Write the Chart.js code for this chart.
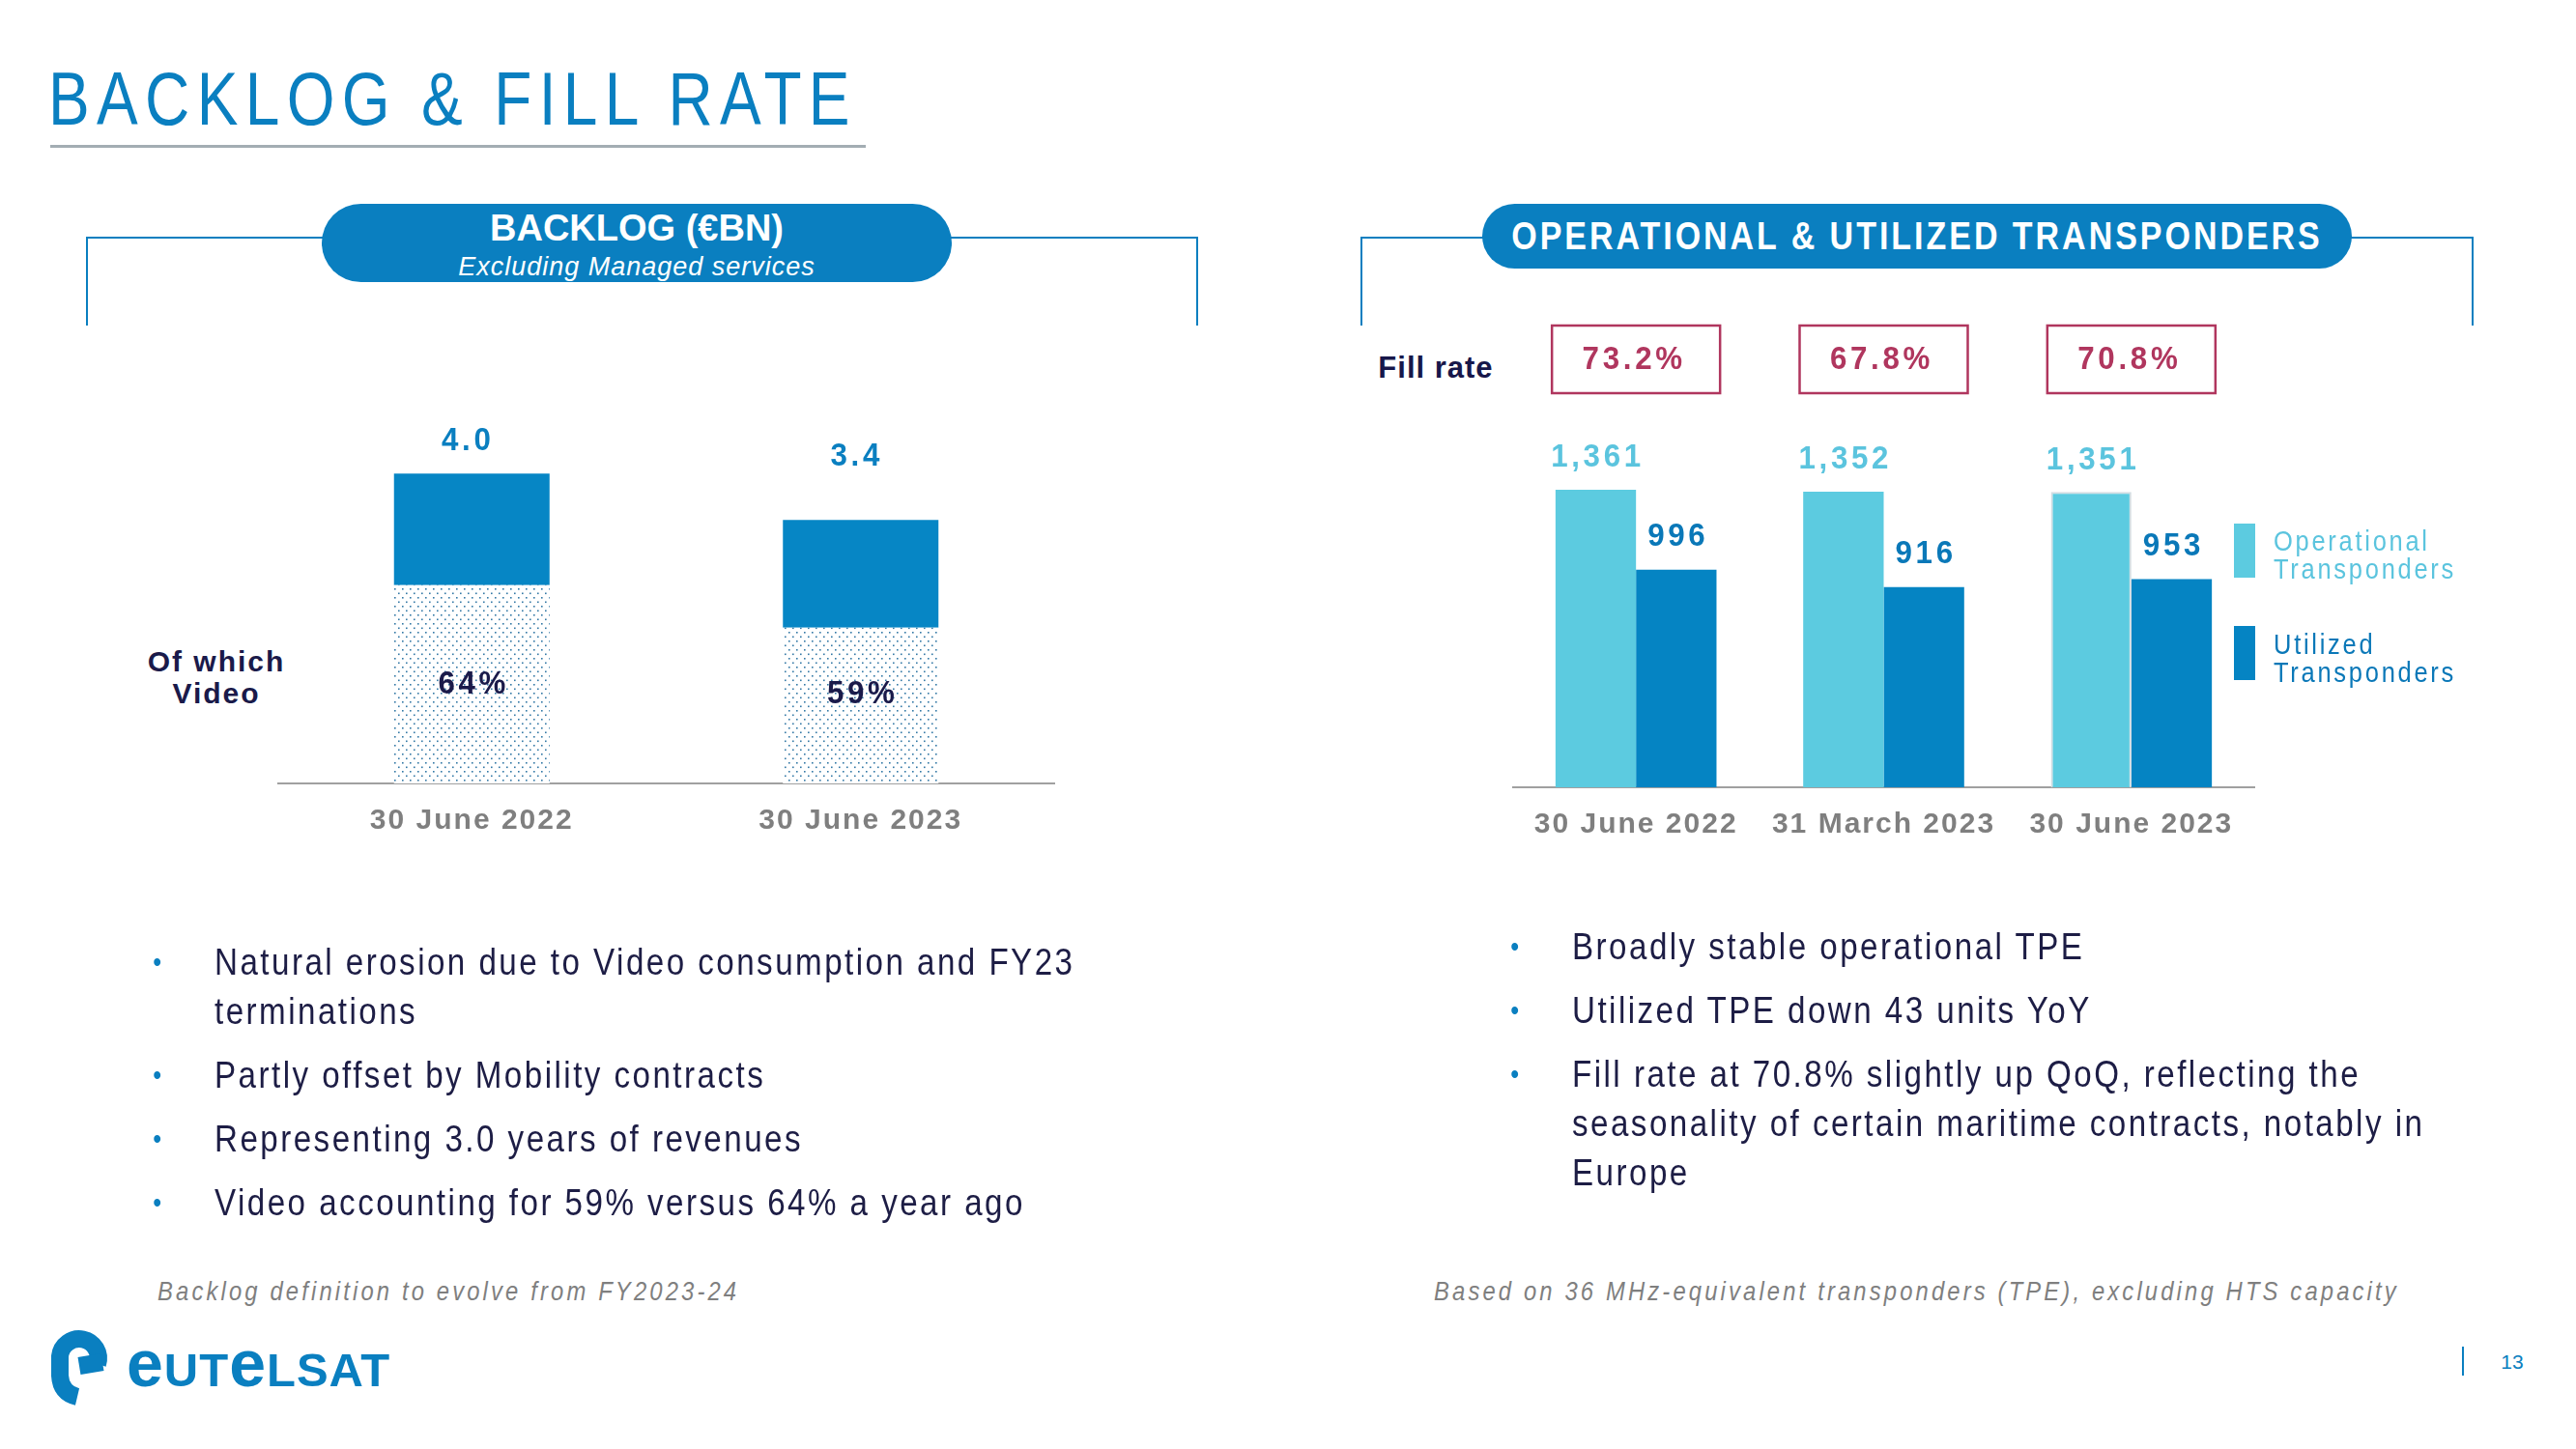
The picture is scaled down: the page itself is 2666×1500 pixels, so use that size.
<!DOCTYPE html>
<html>
<head>
<meta charset="utf-8">
<script src="https://cdn.jsdelivr.net/npm/chart.js@4.4.0/dist/chart.umd.min.js"></script>
<style>
    html, body { margin: 0; padding: 0; background: #fff; }
    body {
        width: 2666px; height: 1500px; position: relative; overflow: hidden;
        font-family: 'Liberation Sans', Arial, sans-serif;
    }
    .abs { position: absolute; white-space: nowrap; }

    #title {
        left: 50px; top: 63px;
        font-size: 78px; line-height: 78px; color: #0a7fc0; letter-spacing: 9px;
        transform: scaleX(0.82); transform-origin: 0 0;
    }
    #titleLine { left: 52px; top: 150px; width: 844px; height: 3px; background: #a3adb3; }

    .bracket { border: 2px solid #0a7fc0; border-bottom: none; height: 90px; }
    .pill { background: #0a7fc0; color: #fff; text-align: center; }

    /* no narrow face installed, so text blocks are squeezed horizontally */
    .bullets {
        font-size: 39px; line-height: 51px; color: #1d1d45; letter-spacing: 2.9px;
        transform: scaleX(0.85); transform-origin: 0 0;
    }
    .bullets p { margin: 0 0 15px 0; position: relative; }
    .bullets p::before {
        content: "\2022"; position: absolute; left: -75px; top: 0;
        color: #0a7fc0; font-size: 30px; letter-spacing: 0;
    }
    .foot {
        font-size: 28px; line-height: 34px; color: #7f7f7f; font-style: italic; letter-spacing: 3.7px;
        transform: scaleX(0.85); transform-origin: 0 0;
    }
    .legend-sw { width: 22px; height: 56px; }
    .legend-tx {
        font-size: 30px; line-height: 29px; letter-spacing: 3.2px;
        transform: scaleX(0.85); transform-origin: 0 0;
    }
</style>
</head>
<body>

<div id="title" class="abs">BACKLOG &amp; FILL RATE</div>
<div id="titleLine" class="abs"></div>

<!-- ============ section headers ============ -->
<div class="abs bracket" style="left:89px; top:245px; width:1147px;"></div>
<div class="abs pill" style="left:333px; top:211px; width:652px; height:81px; border-radius:41px;">
    <div style="position:absolute; left:0; right:0; top:5px; font-size:38px; line-height:40px; font-weight:bold;">BACKLOG (€BN)</div>
    <div style="position:absolute; left:0; right:0; top:50px; font-size:27px; line-height:30px; font-style:italic; letter-spacing:1px;">Excluding Managed services</div>
</div>

<div class="abs bracket" style="left:1408px; top:245px; width:1148px;"></div>
<div class="abs pill" style="left:1534px; top:211px; width:900px; height:67px; border-radius:34px;">
    <span style="position:absolute; left:50%; top:0; font-size:40px; line-height:67px; font-weight:bold;
          letter-spacing:3.5px; white-space:nowrap; transform-origin:0 0;
          transform:scaleX(0.85) translateX(-50%);">OPERATIONAL &amp; UTILIZED TRANSPONDERS</span>
</div>

<!-- ============ left chart ============ -->
<div class="abs" style="left:124px; top:668px; width:200px; text-align:center; font-size:30px; line-height:33px; font-weight:bold; color:#1a1a4a; letter-spacing:2px;">Of which<br>Video</div>
<canvas id="backlogChart" class="abs" width="805" height="479" style="left:287px; top:410px;"></canvas>

<!-- ============ right chart ============ -->
<div class="abs" style="left:1386px; top:363px; width:200px; text-align:center; font-size:31px; line-height:36px; font-weight:bold; color:#17174a; letter-spacing:1px;">Fill rate</div>
<canvas id="tpeChart" class="abs" width="769" height="573" style="left:1565px; top:320px;"></canvas>

<div class="abs legend-sw" style="left:2312px; top:542px; background:#5ccbe0;"></div>
<div class="abs legend-tx" style="left:2353px; top:545px; color:#5bc4de;">Operational<br>Transponders</div>
<div class="abs legend-sw" style="left:2312px; top:648px; background:#0584c3;"></div>
<div class="abs legend-tx" style="left:2353px; top:652px; color:#0a78b8;">Utilized<br>Transponders</div>

<!-- ============ bullets ============ -->
<div class="abs bullets" style="left:222px; top:970px;">
    <p>Natural erosion due to Video consumption and FY23<br>terminations</p>
    <p>Partly offset by Mobility contracts</p>
    <p>Representing 3.0 years of revenues</p>
    <p>Video accounting for 59% versus 64% a year ago</p>
</div>
<div class="abs bullets" style="left:1627px; top:954px;">
    <p>Broadly stable operational TPE</p>
    <p>Utilized TPE down 43 units YoY</p>
    <p>Fill rate at 70.8% slightly up QoQ, reflecting the<br>seasonality of certain maritime contracts, notably in<br>Europe</p>
</div>

<div class="abs foot" style="left:163px; top:1320px;">Backlog definition to evolve from FY2023-24</div>
<div class="abs foot" style="left:1484px; top:1320px;">Based on 36 MHz-equivalent transponders (TPE), excluding HTS capacity</div>

<!-- ============ logo + page ============ -->
<svg class="abs" style="left:0; top:0;" width="130" height="1500">
    <g fill="none" stroke="#0a7fc0" stroke-width="18">
        <path d="M 101 1412 A 20 20 0 1 0 62 1404 L 62 1424 Q 63 1442 80 1446"/>
        <path d="M 82 1414 L 106 1410"/>
    </g>
</svg>
<div class="abs" style="left:131px; top:1387px; font-weight:bold; font-size:49px; line-height:49px; color:#0a7fc0; letter-spacing:1px;"><span style="font-size:68px;">e</span>UT<span style="font-size:68px;">e</span>LSAT</div>

<div class="abs" style="left:2548px; top:1394px; width:2px; height:30px; background:#0a7fc0;"></div>
<div class="abs" style="left:2586px; top:1398px; width:28px; text-align:center; font-size:21px; line-height:24px; color:#0a7fc0;">13</div>

<script>
// =============================
// DATA
// =============================
const backlogDates = ["30 June 2022", "30 June 2023"];
const backlogVideo = [2.56, 2.01];      // €bn, video part (dotted)
const backlogOther = [1.44, 1.39];      // €bn, rest of backlog
const backlogTotalText = ["4.0", "3.4"];
const videoShareText = ["64%", "59%"];

const tpeDates = ["30 June 2022", "31 March 2023", "30 June 2023"];
const operationalTpe = [1361, 1352, 1351];
const utilizedTpe = [996, 916, 953];
const fillRateText = ["73.2%", "67.8%", "70.8%"];

// =============================
// COMMON
// =============================
const FONT = "'Liberation Sans', Arial, sans-serif";
const BLUE = "#0584c3";
const CYAN = "#5ccbe0";

const spacing = {
    id: "spacing",
    beforeDraw(chart) { chart.ctx.letterSpacing = "2px"; }
};

function xAxis() {
    return {
        grid: { display: false, drawTicks: false },
        border: { display: true, color: "#a0a0a0", width: 2 },
        ticks: {
            color: "#7f7f7f", padding: 21, autoSkip: false, maxRotation: 0,
            font: { family: FONT, size: 30, weight: "bold" }
        }
    };
}

// labels squeezed a little and spaced out, like the slide's narrow face
function drawText(ctx, txt, x, y, color, size) {
    ctx.save();
    ctx.translate(x + 2, y);
    ctx.scale(0.92, 1);
    ctx.letterSpacing = "4px";
    ctx.font = `bold ${size}px ${FONT}`;
    ctx.fillStyle = color;
    ctx.textAlign = "center";
    ctx.textBaseline = "middle";
    ctx.fillText(txt, 0, 0);
    ctx.restore();
}

// =============================
// BACKLOG CHART
// =============================
function dotPattern(ctx) {
    const c = document.createElement("canvas");
    c.width = 8; c.height = 9;
    const p = c.getContext("2d");
    p.fillStyle = "#fff";
    p.fillRect(0, 0, 8, 9);
    p.fillStyle = "#3479a6";
    p.fillRect(1, 1, 1.6, 1.6);
    p.fillRect(5, 5.5, 1.6, 1.6);
    return ctx.createPattern(c, "repeat");
}

const backlogLabels = {
    id: "backlogLabels",
    afterDatasetsDraw(chart) {
        const ctx = chart.ctx;
        const video = chart.getDatasetMeta(0).data;
        const other = chart.getDatasetMeta(1).data;
        const topGap = [34, 66];
        const midShift = [0, -12];
        other.forEach((bar, i) => {
            drawText(ctx, backlogTotalText[i], bar.x - 6, bar.y - topGap[i], "#0a7fc0", 34);
        });
        video.forEach((bar, i) => {
            drawText(ctx, videoShareText[i], bar.x, (bar.y + bar.base) / 2 + midShift[i], "#1a1a4a", 34);
        });
    }
};

const ctxL = document.getElementById("backlogChart").getContext("2d");
new Chart(ctxL, {
    type: "bar",
    data: {
        labels: backlogDates,
        datasets: [
            { label: "Video", data: backlogVideo, backgroundColor: dotPattern(ctxL),
              categoryPercentage: 1, barPercentage: 0.4 },
            { label: "Other", data: backlogOther, backgroundColor: "#0686c5",
              categoryPercentage: 1, barPercentage: 0.4 }
        ]
    },
    options: {
        responsive: false,
        animation: false,
        layout: { padding: 0 },
        plugins: { legend: { display: false }, tooltip: { enabled: false } },
        scales: {
            x: Object.assign(xAxis(), { stacked: true }),
            y: { stacked: true, display: false, min: 0, max: 5 }
        }
    },
    plugins: [spacing, backlogLabels]
});

// =============================
// TRANSPONDER CHART
// =============================
const tpeLabels = {
    id: "tpeLabels",
    afterDatasetsDraw(chart) {
        const ctx = chart.ctx;
        chart.getDatasetMeta(0).data.forEach((bar, i) => {
            drawText(ctx, operationalTpe[i].toLocaleString("en-US"), bar.x, bar.y - 33, "#5bc4de", 34);
        });
        chart.getDatasetMeta(1).data.forEach((bar, i) => {
            drawText(ctx, String(utilizedTpe[i]), bar.x, bar.y - 34, "#0a78b8", 34);
        });

        // fill rate boxes over each date
        const xs = chart.scales.x;
        fillRateText.forEach((txt, i) => {
            const x = xs.getPixelForValue(i);
            ctx.save();
            ctx.strokeStyle = "#b0365e";
            ctx.lineWidth = 2.5;
            ctx.strokeRect(x - 87, 17, 174, 70);
            ctx.restore();
            drawText(ctx, txt, x - 4, 53, "#b0365e", 34);
        });
    }
};

new Chart(document.getElementById("tpeChart"), {
    type: "bar",
    data: {
        labels: tpeDates,
        datasets: [
            { label: "Operational Transponders", data: operationalTpe, backgroundColor: CYAN,
              borderColor: ["rgba(0,0,0,0)", "rgba(0,0,0,0)", "#d3dde2"], borderWidth: [0, 0, 2],
              categoryPercentage: 0.65, barPercentage: 1 },
            { label: "Utilized Transponders", data: utilizedTpe, backgroundColor: BLUE,
              categoryPercentage: 0.65, barPercentage: 1 }
        ]
    },
    options: {
        responsive: false,
        animation: false,
        layout: { padding: { top: 133 } },
        plugins: { legend: { display: false }, tooltip: { enabled: false } },
        scales: {
            x: xAxis(),
            y: { display: false, min: 0, max: 1600 }
        }
    },
    plugins: [spacing, tpeLabels]
});
</script>
</body>
</html>
